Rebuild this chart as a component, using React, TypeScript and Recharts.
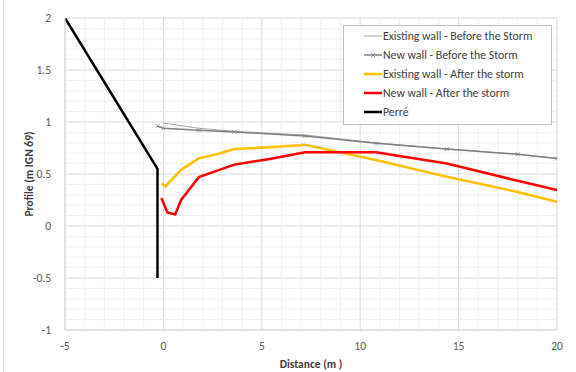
import React from 'react';
import { LineChart, Line, XAxis, YAxis, CartesianGrid, ReferenceLine } from 'recharts';

// distances (m) and levels (m IGN 69)
const existingBeforeX = [0, 1.8, 3.6, 7.2, 10.8, 14.4, 18, 20];
const existingBeforeY = [0.99, 0.94, 0.91, 0.875, 0.8, 0.74, 0.69, 0.65];

const newBeforeX = [-0.3, 0, 1.8, 3.6, 7.2, 10.8, 14.4, 18, 20];
const newBeforeY = [0.96, 0.94, 0.92, 0.905, 0.865, 0.795, 0.74, 0.69, 0.65];

const existingAfterX = [-0.1, 0.1, 0.9, 1.8, 2.7, 3.6, 5.4, 7.2, 10.8, 14.4, 18, 20];
const existingAfterY = [0.41, 0.38, 0.54, 0.65, 0.69, 0.74, 0.757, 0.78, 0.635, 0.474, 0.327, 0.234];

const newAfterX = [-0.1, 0.2, 0.6, 0.9, 1.8, 3.6, 5.4, 7.2, 10.8, 14.4, 18, 20];
const newAfterY = [0.27, 0.13, 0.11, 0.25, 0.47, 0.59, 0.645, 0.71, 0.71, 0.6, 0.435, 0.345];

const perreX = [-5, -0.3, -0.3];
const perreY = [2, 0.55, -0.5];

const xTicks = [-5, 0, 5, 10, 15, 20];
const yTicks = [-1, -0.5, 0, 0.5, 1, 1.5, 2];
const xMinor = [-4, -3, -2, -1, 1, 2, 3, 4, 6, 7, 8, 9, 11, 12, 13, 14, 16, 17, 18, 19];
const yMinor = [
  -0.9, -0.8, -0.7, -0.6, -0.4, -0.3, -0.2, -0.1, 0.1, 0.2, 0.3, 0.4, 0.6, 0.7, 0.8, 0.9,
  1.1, 1.2, 1.3, 1.4, 1.6, 1.7, 1.8, 1.9,
];

const pts = (xs: number[], ys: number[]) => xs.map((x, i) => ({ x, y: ys[i] }));

const SERIES = [
  { name: 'Existing wall - Before the Storm', color: '#A6A6A6', width: 1, data: pts(existingBeforeX, existingBeforeY), cross: false },
  { name: 'New wall - Before the Storm', color: '#7F7F7F', width: 1.5, data: pts(newBeforeX, newBeforeY), cross: true },
  { name: 'Existing wall - After the storm', color: '#FFC000', width: 2.5, data: pts(existingAfterX, existingAfterY), cross: false },
  { name: 'New wall - After the storm', color: '#FF0000', width: 2.5, data: pts(newAfterX, newAfterY), cross: false },
  { name: 'Perré', color: '#000000', width: 2.5, data: pts(perreX, perreY), cross: false },
];

const FONT = 'Carlito, Lato, "Open Sans", sans-serif';

const CrossDot = (props: any) => {
  const { cx, cy, stroke } = props;
  if (cx == null || cy == null) return null;
  return (
    <path
      d={`M${cx - 2},${cy - 2}L${cx + 2},${cy + 2}M${cx - 2},${cy + 2}L${cx + 2},${cy - 2}`}
      stroke={stroke}
      strokeWidth={0.8}
      fill="none"
    />
  );
};

const LegendBox = () => (
  <div
    style={{
      position: 'absolute',
      left: 343,
      top: 25,
      width: 209,
      border: '1px solid #BFBFBF',
      background: '#fff',
      padding: '0 0 2px 20px',
      fontFamily: FONT,
      fontSize: 11.8,
      color: '#404040',
      boxSizing: 'border-box',
    }}
  >
    {SERIES.map((s) => (
      <div key={s.name} style={{ display: 'flex', alignItems: 'center', height: 19.2 }}>
        <svg width={18} height={8} style={{ marginRight: 1 }}>
          <line x1={0} y1={4} x2={18} y2={4} stroke={s.color} strokeWidth={s.width} />
          {s.cross && <CrossDot cx={9} cy={4} stroke={s.color} />}
        </svg>
        <span>{s.name}</span>
      </div>
    ))}
  </div>
);

export default function App() {
  return (
    <div style={{ position: 'absolute', left: 0, top: 0, width: 576, height: 372, background: '#fff' }}>
      <div style={{ position: 'absolute', left: 3, top: 0, width: 1, height: 372, background: '#D9D9D9' }} />
      <LineChart width={576} height={372} margin={{ top: 18, right: 19, bottom: 0, left: 20 }}>
        {xMinor.map((v) => (
          <ReferenceLine key={`xm${v}`} x={v} stroke="#F0F0F0" strokeWidth={1} ifOverflow="hidden" />
        ))}
        {yMinor.map((v) => (
          <ReferenceLine key={`ym${v}`} y={v} stroke="#F0F0F0" strokeWidth={1} ifOverflow="hidden" />
        ))}
        <CartesianGrid stroke="#D9D9D9" />
        <XAxis
          type="number"
          dataKey="x"
          domain={[-5, 20]}
          ticks={xTicks}
          allowDataOverflow
          axisLine={{ stroke: '#D9D9D9' }}
          tickLine={false}
          tick={{ fill: '#595959', fontSize: 11.5, fontFamily: FONT }}
          tickMargin={6}
          height={42}
          label={{
            value: 'Distance (m )',
            position: 'insideBottom',
            offset: 4,
            fill: '#404040',
            fontSize: 11.5,
            fontWeight: 'bold',
            fontFamily: FONT,
          }}
        />
        <YAxis
          type="number"
          dataKey="y"
          domain={[-1, 2]}
          ticks={yTicks}
          allowDataOverflow
          axisLine={{ stroke: '#D9D9D9' }}
          tickLine={false}
          tick={{ fill: '#595959', fontSize: 11.5, fontFamily: FONT }}
          tickMargin={8}
          width={45}
          label={{
            value: 'Profile (m IGN 69)',
            angle: -90,
            position: 'insideLeft',
            offset: 9,
            style: { textAnchor: 'middle' },
            fill: '#404040',
            fontSize: 11.5,
            fontWeight: 'bold',
            fontFamily: FONT,
          }}
        />
        {SERIES.map((s) => (
          <Line
            key={s.name}
            data={s.data}
            dataKey="y"
            name={s.name}
            type="linear"
            stroke={s.color}
            strokeWidth={s.width}
            dot={s.cross ? <CrossDot /> : false}
            activeDot={false}
            isAnimationActive={false}
          />
        ))}
      </LineChart>
      <LegendBox />
    </div>
  );
}
